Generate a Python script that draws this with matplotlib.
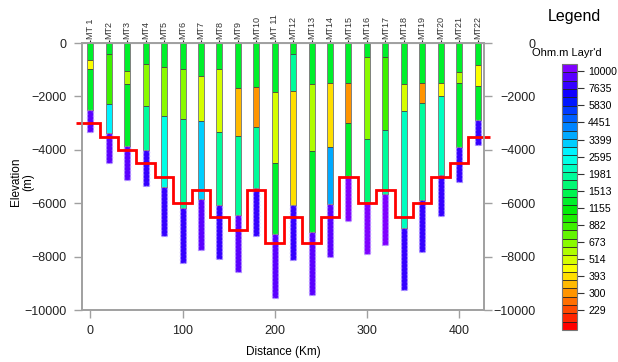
import matplotlib

matplotlib.use("Agg")
import matplotlib.pyplot as plt
import numpy as np
from matplotlib.colors import ListedColormap, BoundaryNorm, hsv_to_rgb
from matplotlib.cm import ScalarMappable

plt.rcParams["font.family"] = ["Liberation Sans", "DejaVu Sans"]

# ---- data -------------------------------------------------------------------
stations = ["MT 1", "MT2", "MT3", "MT4", "MT5", "MT6", "MT7", "MT8", "MT9", "MT10", "MT 11",
            "MT12", "MT13", "MT14", "MT15", "MT16", "MT17", "MT18", "MT19", "MT20", "MT21", "MT22"]
distance_km = [0, 20, 40, 60, 80, 100, 120, 140, 160, 180, 200,
               220, 240, 260, 280, 300, 320, 340, 360, 380, 400, 420]

# layer bottoms (elevation, m) for each sounding, top of first layer is 0
layer_bottoms = [
    [-630, -980, -2500, -3330],
    [-410, -2270, -3360, -4490],
    [-1060, -1540, -3860, -5140],
    [-770, -2360, -4020, -5360],
    [-890, -2730, -5400, -7220],
    [-980, -2860, -6180, -8220],
    [-1230, -2920, -5830, -7740],
    [-980, -3320, -6080, -8080],
    [-1670, -3480, -6430, -8580],
    [-1640, -3150, -5430, -7220],
    [-1820, -4510, -7160, -9560],
    [-410, -1790, -6080, -8120],
    [-1540, -4050, -7080, -9440],
    [-1480, -3890, -6030, -8030],
    [-1480, -2980, -4990, -6680],
    [-540, -3580, -5950, -7910],
    [-540, -3260, -5650, -7560],
    [-1540, -2540, -6930, -9250],
    [-1480, -2230, -5860, -7830],
    [-1480, -2000, -4930, -6490],
    [-1100, -1480, -3900, -5210],
    [-830, -1600, -2880, -3820],
]
# layer resistivity (Ohm.m)
layer_rho = [
    [1300, 450, 1300, 9000],
    [1300, 850, 2760, 9500],
    [1300, 573, 1300, 9500],
    [1300, 678, 1865, 8000],
    [1300, 700, 2500, 8500],
    [1300, 680, 1950, 8000],
    [1300, 512, 3330, 9000],
    [1300, 512, 1950, 8500],
    [1300, 330, 1950, 9000],
    [1300, 292, 1865, 8500],
    [1300, 500, 1200, 9500],
    [1300, 1865, 374, 8500],
    [1300, 573, 1200, 9500],
    [1300, 374, 3760, 9000],
    [1300, 292, 1250, 11000],
    [1300, 700, 1575, 11000],
    [1300, 850, 1865, 11000],
    [1300, 500, 2290, 8000],
    [1300, 311, 1865, 8000],
    [1300, 425, 2290, 8500],
    [1300, 573, 1300, 8500],
    [1300, 458, 1300, 8500],
]
# interpreted basement (red line)
basement_m = [-3000, -3500, -4000, -4500, -5000, -6000, -5500, -6500, -7000, -5500, -7500,
              -6500, -7500, -6500, -5000, -6000, -5500, -6500, -6000, -5000, -4500, -3500]

legend_ticks = [10000, 7635, 5830, 4451, 3399, 2595, 1981, 1513, 1155, 882, 673, 514, 393, 300, 229]
y_ticks = [0, -2000, -4000, -6000, -8000, -10000]
x_ticks = [0, 100, 200, 300, 400]

# ---- colour scale (Surfer-like rainbow, red -> violet) -----------------------
n_blocks = 32
hues = np.linspace(0, 0.75, n_blocks)
vals = 1 - 0.07 * np.exp(-((hues - 0.33) / 0.08) ** 2)
cmap = ListedColormap([hsv_to_rgb((h, 1, v)) for h, v in zip(hues, vals)])
bounds = np.geomspace(166.6, 11230, n_blocks + 1)
norm = BoundaryNorm(bounds, cmap.N)

GRID = "#a0a0a0"
FS = 9

fig = plt.figure(figsize=(6.18, 3.62), dpi=100)
ax = fig.add_axes([0.1327, 0.1436, 0.6505, 0.7374])

w = 6.5
for x, bots, rhos in zip(distance_km, layer_bottoms, layer_rho):
    tops = [0] + bots[:-1]
    for i, (t, b, r) in enumerate(zip(tops, bots, rhos)):
        last = i == len(bots) - 1
        ax.bar(x, b - t, bottom=t, width=w, color=cmap(norm(r)),
               edgecolor="#b59cff" if last else "#3a3a3a",
               linewidth=1.0 if last else 0.5, linestyle=":" if last else "-", zorder=2)
    # grey outline round the layered part of the column
    ax.bar(x, tops[-1], bottom=0, width=w, facecolor="none", edgecolor="#888888",
           linewidth=0.6, zorder=3)

edges = [distance_km[0] - 16] + [(a + b) / 2 for a, b in zip(distance_km[:-1], distance_km[1:])] \
        + [distance_km[-1] + 13]
ax.stairs(basement_m, edges, baseline=None, color="#ff0000", linewidth=2, zorder=4, clip_on=False)

ax.set_xlim(-9, 427)
ax.set_ylim(-10000, 0)
ax.set_xticks(x_ticks)
ax.set_yticks(y_ticks)
for s in ax.spines.values():
    s.set_color(GRID)
    s.set_linewidth(1.2)
ax.tick_params(axis="both", length=6, width=1, color=GRID, labelsize=FS, labelcolor="#222222", pad=5)

ax2 = ax.twinx()
ax2.set_ylim(-10000, 0)
ax2.set_yticks(y_ticks)
ax2.tick_params(axis="y", length=6, width=1, color=GRID, labelsize=FS, labelcolor="#222222", pad=31)
for lbl in ax2.get_yticklabels():
    lbl.set_horizontalalignment("right")
for s in ax2.spines.values():
    s.set_color(GRID)
    s.set_linewidth(1.2)

top = ax.secondary_xaxis("top")
top.set_xticks(distance_km, labels=stations, rotation=90, fontsize=6.5)
top.tick_params(length=2, width=0.8, color="#222222", pad=1, labelcolor="#333333")
top.spines["top"].set_color(GRID)

ax.set_ylabel("Elevation\n(m)", fontsize=8.5, linespacing=1.1)
ax.yaxis.set_label_coords(-0.118, 0.48)
ax.set_xlabel("Distance (Km)", fontsize=8.5)
ax.xaxis.set_label_coords(0.5, -0.135)

# ---- legend colour bar ------------------------------------------------------
cax = fig.add_axes([562 / 618, 1 - 330 / 362, 15 / 618, 266 / 362])
cb = fig.colorbar(ScalarMappable(norm=norm, cmap=cmap), cax=cax, drawedges=True, ticks=legend_ticks)
cb.ax.set_yticklabels([str(t) for t in legend_ticks])
cb.ax.tick_params(length=5, width=0.8, color="#333333", labelsize=7.6, pad=3)
cb.outline.set_edgecolor("#777777")
cb.dividers.set_color("#222222")
cb.dividers.set_linewidth(0.6)
cb.ax.minorticks_off()

fig.text(574 / 618, 1 - 17 / 362, "Legend", ha="center", va="center", fontsize=11.5)
fig.text(567 / 618, 1 - 53 / 362, "Ohm.m Layr'd", ha="center", va="center", fontsize=8)

fig.savefig("out.png", dpi=100)
